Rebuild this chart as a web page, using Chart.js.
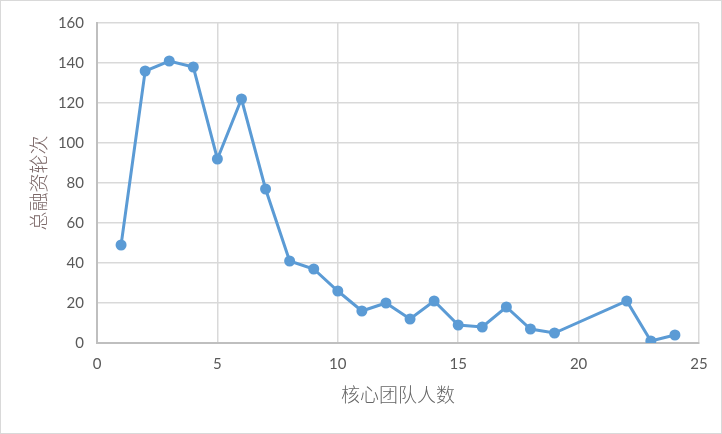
<!DOCTYPE html>
<html>
<head>
<meta charset="utf-8">
<script src="https://cdn.jsdelivr.net/npm/chart.js@4/dist/chart.umd.min.js"></script>
<style>
  body { margin: 0; background: #fff; }
  #box { width: 722px; height: 434px; box-sizing: border-box; border: 1px solid #d9d9d9; background: #fff; }
  canvas { display: block; }
</style>
</head>
<body>
<div id="box"><canvas id="myChart" width="720" height="432"></canvas></div>
<script>
// 核心团队人数 vs 总融资轮次
var teamSize = [1, 2, 3, 4, 5, 6, 7, 8, 9, 10, 11, 12, 13, 14, 15, 16, 17, 18, 19, 22, 23, 24];
var rounds   = [49, 136, 141, 138, 92, 122, 77, 41, 37, 26, 16, 20, 12, 21, 9, 8, 18, 7, 5, 21, 1, 4];
var xTicks = [0, 5, 10, 15, 20, 25];
var yTicks = [0, 20, 40, 60, 80, 100, 120, 140, 160];

var tickFont = { family: 'Lato, "Liberation Sans", sans-serif', size: 15 };
var titleFont = { family: '"Noto Sans CJK SC", sans-serif', size: 19, weight: 300 };

var ctx = document.getElementById('myChart').getContext('2d');

var chart = new Chart(ctx, {
    type: 'scatter',
    data: {
        datasets: [{
            data: teamSize.map((x, i) => ({x: x, y: rounds[i]})),
            showLine: true,
            borderColor: '#5b9bd5',
            backgroundColor: '#5b9bd5',
            borderWidth: 3,
            pointRadius: 5.5,
            pointBorderWidth: 0,
            pointBackgroundColor: '#5b9bd5',
            tension: 0
        }]
    },
    options: {
        responsive: false,
        animation: false,
        layout: { padding: { left: 0, top: 22, right: 22, bottom: 0 } },
        plugins: {
            legend: { display: false },
            tooltip: { enabled: false }
        },
        scales: {
            x: {
                type: 'linear',
                min: xTicks[0],
                max: xTicks[xTicks.length - 1],
                afterBuildTicks: s => { s.ticks = xTicks.map(v => ({value: v})); },
                afterFit: s => { s.height = 90; },
                grid: { color: '#d9d9d9', lineWidth: 1.5, drawTicks: false },
                border: { color: '#bfbfbf', width: 2 },
                ticks: { color: '#595959', font: tickFont, padding: 12, maxRotation: 0 },
                title: {
                    display: true,
                    text: '核心团队人数',
                    color: '#666666',
                    font: titleFont,
                    padding: { top: 0, bottom: 27 }
                }
            },
            y: {
                min: yTicks[0],
                max: yTicks[yTicks.length - 1],
                afterBuildTicks: s => { s.ticks = yTicks.map(v => ({value: v})); },
                afterFit: s => { s.width = 96; },
                grid: { color: '#d9d9d9', lineWidth: 1.5, drawTicks: false },
                border: { color: '#bfbfbf', width: 2 },
                ticks: { color: '#595959', font: tickFont, padding: 13 },
                title: {
                    display: true,
                    text: '总融资轮次',
                    color: '#7a6666',
                    font: titleFont,
                    padding: { top: 26, bottom: 0 }
                }
            }
        }
    }
});
</script>
</body>
</html>
